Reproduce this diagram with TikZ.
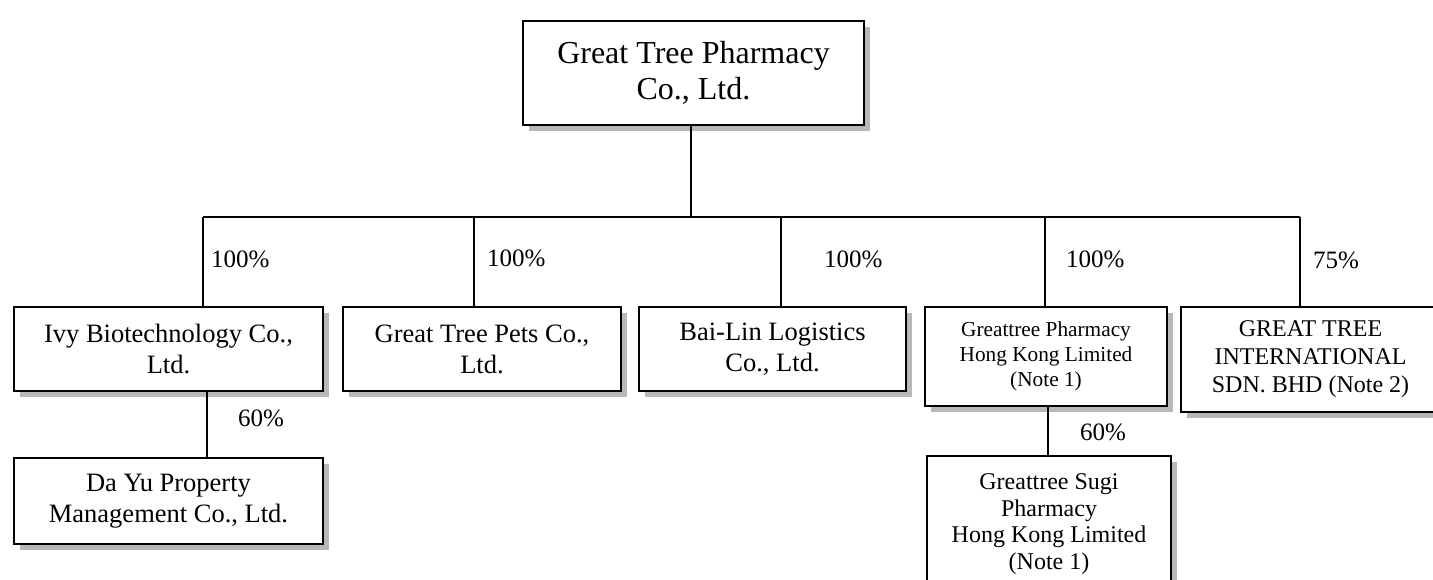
\documentclass[tikz,border=0pt]{standalone}
\usepackage{fontspec}
\setmainfont{Liberation Serif}
\usetikzlibrary{shadows}
\tikzset{
  orgbox/.style={draw, line width=2.2pt, fill=white, align=center, inner sep=0pt,
    drop shadow={shadow xshift=6pt, shadow yshift=-6pt, fill=black!28, opacity=1}},
  fbig/.style={font=\fontsize{32}{36}\selectfont},
  fmid/.style={font=\fontsize{26.5}{31}\selectfont},
  fsml/.style={font=\fontsize{21.3}{25}\selectfont},
  fmed/.style={font=\fontsize{24}{28}\selectfont},
  fsugi/.style={font=\fontsize{24}{26.5}\selectfont},
  conn/.style={line width=1.4pt},
  pct/.style={font=\fontsize{25}{28}\selectfont, inner sep=0pt, anchor=base west}
}
\begin{document}
\begin{tikzpicture}[x=1pt,y=-1pt]
\useasboundingbox (0,0) rectangle (1433,579);
\fill[white] (0,0) rectangle (1433,579);
\clip (0,0) rectangle (1433,579);
% boxes
\node[orgbox, fbig, minimum width=341pt, minimum height=104pt] (top) at (693.5,73) {Great Tree Pharmacy\\Co., Ltd.};
\node[orgbox, fmid, minimum width=309pt, minimum height=84pt] (ivy) at (168.5,349) {Ivy Biotechnology Co.,\\Ltd.};
\node[orgbox, fmid, minimum width=309pt, minimum height=86pt] (dayu) at (168.5,501) {Da Yu Property\\Management Co., Ltd.};
\node[orgbox, fmid, minimum width=278pt, minimum height=84pt] (pets) at (482,349) {Great Tree Pets Co.,\\Ltd.};
\node[orgbox, fmid, minimum width=267pt, minimum height=84pt] (bailin) at (772.5,349) {Bai-Lin Logistics\\Co., Ltd.};
\node[orgbox, fsml, minimum width=242pt, minimum height=99pt] (hk) at (1046,356.5) {Greattree Pharmacy\\Hong Kong Limited\\(Note 1)};
\node[orgbox, fmed, minimum width=259pt, minimum height=105pt] (intl) at (1310.5,359.5) {GREAT TREE\\INTERNATIONAL\\SDN. BHD (Note 2)};
\node[orgbox, fsugi, minimum width=244pt, minimum height=136pt] (sugi) at (1049,524) {Greattree Sugi\\Pharmacy\\Hong Kong Limited\\(Note 1)};
% bus coordinates
\coordinate (b1) at (203,217);
\coordinate (b2) at (474,217);
\coordinate (b3) at (781,217);
\coordinate (b4) at (1045,217);
\coordinate (b5) at (1300,217);
% connectors
\draw[conn] ([xshift=-2.5pt]top.south) -- ([xshift=-2.5pt]top.south |- b1);
\draw[conn] (b1) -- (b5);
\draw[conn] (b1) -- (b1 |- ivy.north);
\draw[conn] (b2) -- (b2 |- pets.north);
\draw[conn] (b3) -- (b3 |- bailin.north);
\draw[conn] (b4) -- (b4 |- hk.north);
\draw[conn] (b5) -- (b5 |- intl.north);
\draw[conn] ([xshift=38.5pt]ivy.south) -- ([xshift=38.5pt]ivy.south |- dayu.north);
\draw[conn] ([xshift=2pt]hk.south) -- ([xshift=2pt]hk.south |- sugi.north);
% percentages
\node[pct] (p1) at (211,267) {100\%};
\node[pct] (p2) at (487,266) {100\%};
\node[pct] (p3) at (824,267) {100\%};
\node[pct] (p4) at (1066,267) {100\%};
\node[pct] (p5) at (1313,268) {75\%};
\node[pct] (p6) at (238,426) {60\%};
\node[pct] (p7) at (1080,440) {60\%};
\end{tikzpicture}
\end{document}
